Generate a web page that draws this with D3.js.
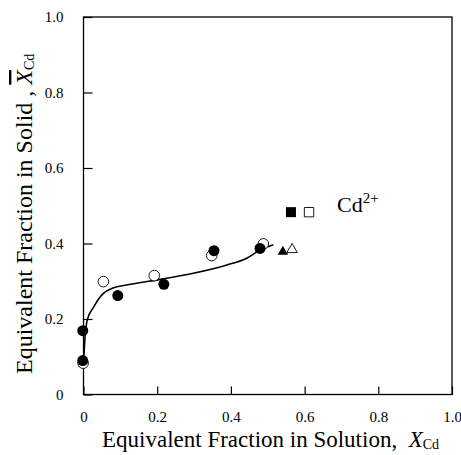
<!DOCTYPE html>
<html>
<head>
<meta charset="utf-8">
<script src="https://cdn.jsdelivr.net/npm/d3@7"></script>
<style>
  body { margin: 0; background: #fff; }
  svg text { font-family: "Liberation Serif", "Times New Roman", serif; fill: #000; }
</style>
</head>
<body>
<svg id="chart"></svg>
<script>
// filled circles / open circles (two runs)
const filledX = [-0.002, -0.002, 0.093, 0.218, 0.354, 0.479]
const filledY = [0.169, 0.090, 0.262, 0.292, 0.381, 0.387]
const openX = [-0.001, 0.054, 0.192, 0.348, 0.488]
const openY = [0.083, 0.299, 0.315, 0.368, 0.399]

// triangles and squares
const triFilled = [0.541, 0.378]
const triOpen = [0.566, 0.384]
const sqFilled = [0.563, 0.483]
const sqOpen = [0.612, 0.483]

// fitted line
const curveX = [0, 0.004, 0.01, 0.027, 0.054, 0.08, 0.117, 0.208, 0.298, 0.389, 0.443, 0.479, 0.515]
const curveY = [0.083, 0.15, 0.197, 0.231, 0.268, 0.282, 0.290, 0.305, 0.321, 0.343, 0.361, 0.383, 0.397]

const ticks = [0, 0.2, 0.4, 0.6, 0.8, 1.0]
const tickLabels = ['0', '0.2', '0.4', '0.6', '0.8', '1.0']

const width = 461
const height = 455
const margin = {left: 83.5, right: 9, top: 17, bottom: 60.5}

const svg = d3.select('#chart')
  .attr('width', width)
  .attr('height', height)

const x = d3.scaleLinear().domain([0, 1]).range([margin.left, width - margin.right])
const y = d3.scaleLinear().domain([0, 1]).range([height - margin.bottom, margin.top])

// frame
svg.append('rect')
  .attr('x', x(0))
  .attr('y', y(1))
  .attr('width', x(1) - x(0))
  .attr('height', y(0) - y(1))
  .attr('fill', 'none')
  .attr('stroke', '#000')
  .attr('stroke-width', 1.3)

const axisX = d3.axisBottom(x)
  .tickValues(ticks)
  .tickFormat((d, i) => tickLabels[i])
  .tickSizeInner(-8)
  .tickSizeOuter(0)
  .tickPadding(17)

const axisY = d3.axisLeft(y)
  .tickValues(ticks)
  .tickFormat((d, i) => tickLabels[i])
  .tickSizeInner(-9)
  .tickSizeOuter(0)
  .tickPadding(20)

const gx = svg.append('g')
  .attr('transform', `translate(0, ${y(0)})`)
  .call(axisX)
const gy = svg.append('g')
  .attr('transform', `translate(${x(0)}, 0)`)
  .call(axisY)

for (const g of [gx, gy]) {
  g.select('.domain').remove()
  g.selectAll('.tick line').attr('stroke', '#000').attr('stroke-width', 1.2)
  g.selectAll('.tick text')
    .attr('font-size', 15)
    .attr('fill', '#000')
    .attr('font-family', '"Liberation Serif", "Times New Roman", serif')
}
gx.selectAll('.tick text').attr('dy', '0.71em')

// fitted curve
const line = d3.line()
  .x(d => x(d[0]))
  .y(d => y(d[1]))
  .curve(d3.curveMonotoneX)

svg.append('path')
  .datum(d3.zip(curveX, curveY))
  .attr('d', line)
  .attr('fill', 'none')
  .attr('stroke', '#000')
  .attr('stroke-width', 1.6)

// open circles first, filled on top
svg.append('g')
  .selectAll('circle')
  .data(d3.zip(openX, openY))
  .join('circle')
  .attr('cx', d => x(d[0]))
  .attr('cy', d => y(d[1]))
  .attr('r', 5.3)
  .attr('fill', '#fff')
  .attr('stroke', '#000')
  .attr('stroke-width', 0.9)

svg.append('g')
  .selectAll('circle')
  .data(d3.zip(filledX, filledY))
  .join('circle')
  .attr('cx', d => x(d[0]))
  .attr('cy', d => y(d[1]))
  .attr('r', 5.5)
  .attr('fill', '#000')

const tri = d3.symbol().type(d3.symbolTriangle).size(48)
const sq = d3.symbol().type(d3.symbolSquare).size(100)

svg.append('path')
  .attr('d', tri)
  .attr('transform', `translate(${x(triFilled[0])}, ${y(triFilled[1])})`)
  .attr('fill', '#000')
svg.append('path')
  .attr('d', tri)
  .attr('transform', `translate(${x(triOpen[0])}, ${y(triOpen[1])})`)
  .attr('fill', '#fff')
  .attr('stroke', '#000')
  .attr('stroke-width', 0.9)
svg.append('path')
  .attr('d', sq)
  .attr('transform', `translate(${x(sqFilled[0])}, ${y(sqFilled[1])})`)
  .attr('fill', '#000')
svg.append('path')
  .attr('d', d3.symbol().type(d3.symbolSquare).size(88))
  .attr('transform', `translate(${x(sqOpen[0])}, ${y(sqOpen[1])})`)
  .attr('fill', '#fff')
  .attr('stroke', '#000')
  .attr('stroke-width', 0.9)

// Cd2+ annotation
const ann = svg.append('text')
  .attr('x', x(0.688))
  .attr('y', y(0.483))
  .attr('font-size', 22)
ann.append('tspan').text('Cd')
ann.append('tspan').attr('font-size', 15).attr('dy', -9).text('2+')

// axis titles
const xt = svg.append('text')
  .attr('x', 102)
  .attr('y', 447)
  .attr('font-size', 23)
xt.append('tspan').text('Equivalent Fraction in Solution,\u00a0 ')
xt.append('tspan').attr('font-style', 'italic').text('X')
xt.append('tspan').attr('font-size', 14).attr('dy', 2).text('Cd')

const yt = svg.append('text')
  .attr('transform', `translate(32, 374) rotate(-90)`)
  .attr('font-size', 24)
yt.append('tspan').text('Equivalent Fraction in Solid , ')
yt.append('tspan').attr('font-style', 'italic').style('text-decoration', 'overline').text('X')
yt.append('tspan').attr('font-size', 14).attr('dy', 2).text('Cd')
</script>
</body>
</html>
